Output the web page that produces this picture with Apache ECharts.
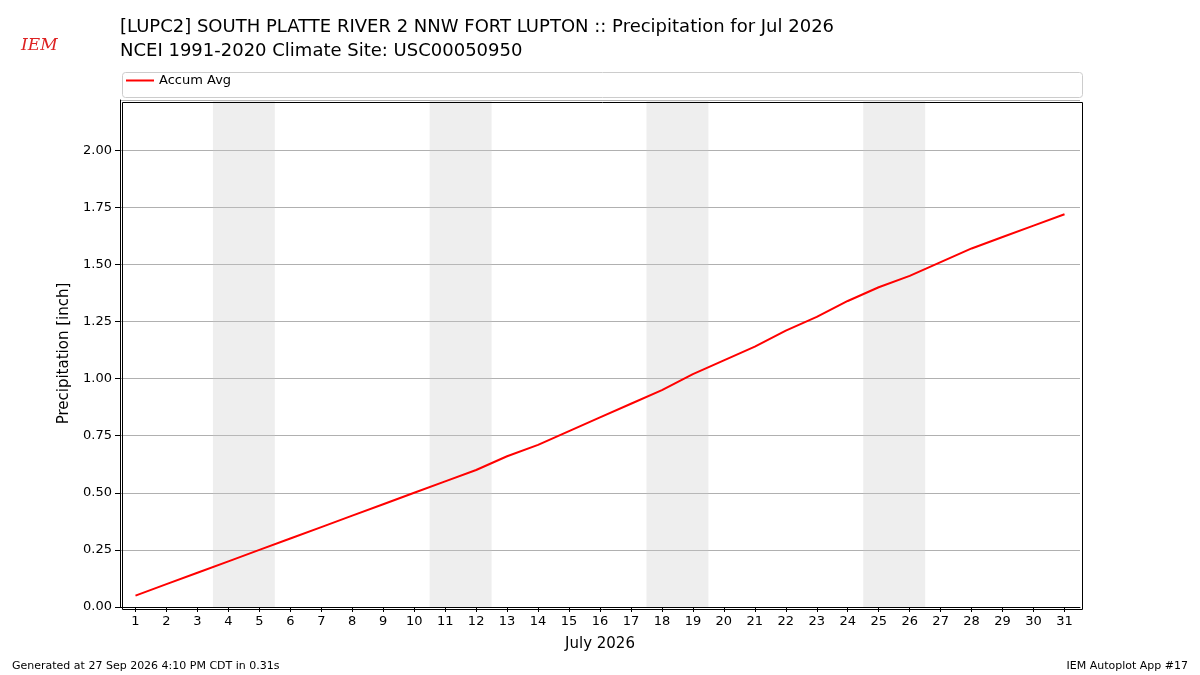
<!DOCTYPE html>
<html><head><meta charset="utf-8">
<script src="https://cdn.jsdelivr.net/npm/echarts@6/dist/echarts.min.js"></script>
<style>body{margin:0}#c{width:1200px;height:675px}</style></head>
<body><div id="c"></div>
<script>
const days = Array.from({length:31},(_,i)=>i+1);
const accumAvg = [0.05,0.10,0.15,0.20,0.25,0.30,0.35,0.40,0.45,0.50,0.55,0.60,0.66,0.71,0.77,0.83,0.89,0.95,1.02,1.08,1.14,1.21,1.27,1.34,1.40,1.45,1.51,1.57,1.62,1.67,1.72];
const weekends = [[3.5,5.5],[10.5,12.5],[17.5,19.5],[24.5,26.5]];
const F = 'DejaVu Sans';
const chart = echarts.init(document.getElementById('c'));
chart.setOption({
  animation:false,
  textStyle:{fontFamily:F},
  title:[{text:'[LUPC2] SOUTH PLATTE RIVER 2 NNW FORT LUPTON :: Precipitation for Jul 2026\nNCEI 1991-2020 Climate Site: USC00050950',left:115,top:10,textStyle:{fontFamily:F,fontSize:18,fontWeight:'normal',color:'#000',lineHeight:24}},
    {text:'Generated at 27 Sep 2026 4:10 PM CDT in 0.31s',left:7,top:656,textStyle:{fontFamily:F,fontSize:11,fontWeight:'normal',color:'#000'}},
    {text:'IEM Autoplot App #17',right:7,top:656,textStyle:{fontFamily:F,fontSize:11,fontWeight:'normal',color:'#000'}},
    {text:'IEM',left:16,top:32,textStyle:{fontFamily:'DejaVu Serif',fontSize:17,fontStyle:'italic',fontWeight:'normal',color:'#d22'}}],
  graphic:[
    {type:'rect',left:120,top:70,shape:{width:960,height:25,r:3},style:{fill:'none',stroke:'#ccc',lineWidth:1},z:-1},
    {type:'rect',left:120,top:100,shape:{width:960,height:507},style:{fill:'none',stroke:'#000',lineWidth:1},z:10}
  ],
  legend:{left:122,top:72,padding:[2,4],itemWidth:28,itemHeight:2,
    textStyle:{fontFamily:F,fontSize:13,color:'#000'},data:[{name:'Accum Avg',icon:'rect'}]},
  grid:{left:120,right:120,top:100,bottom:68},
  xAxis:{type:'value',min:0.5,max:31.5,name:'July 2026',nameLocation:'middle',nameGap:30,
    nameTextStyle:{fontSize:15,color:'#000'},
    axisLine:{lineStyle:{color:'#000'}},
    axisTick:{show:true,lineStyle:{color:'#000'},customValues:days},splitLine:{show:false},
    axisLabel:{color:'#000',fontSize:13,customValues:days,formatter:v=>String(v)}},
  yAxis:{type:'value',min:0,max:2.22,interval:0.25,name:'Precipitation [inch]',nameLocation:'middle',nameGap:48,
    nameTextStyle:{fontSize:15,color:'#000'},
    axisLine:{show:true,lineStyle:{color:'#000'}},axisTick:{show:true,lineStyle:{color:'#000'}},
    splitLine:{lineStyle:{color:'#b0b0b0'}},
    axisLabel:{color:'#000',fontSize:13,showMaxLabel:false,formatter:v=>v.toFixed(2)}},
  series:[{name:'Accum Avg',type:'line',data:days.map((d,i)=>[d,accumAvg[i]]),showSymbol:false,
    lineStyle:{color:'#f00',width:2},itemStyle:{color:'#f00'},
    markArea:{silent:true,itemStyle:{color:'rgba(200,200,200,0.3)'},data:weekends.map(w=>[{xAxis:w[0]},{xAxis:w[1]}])}}]
});
</script></body></html>
